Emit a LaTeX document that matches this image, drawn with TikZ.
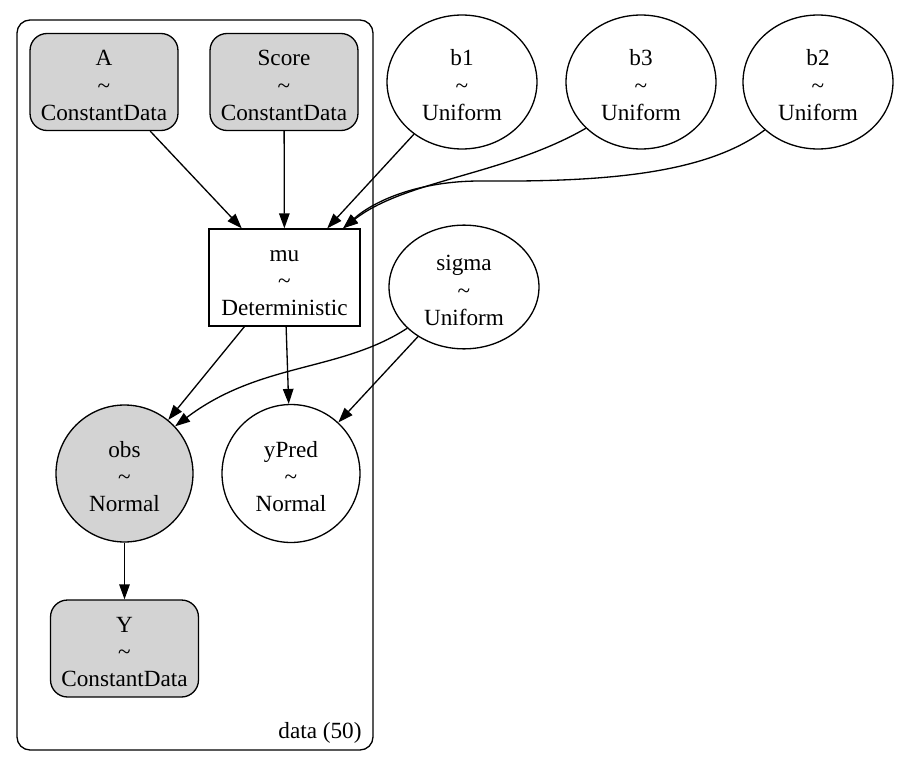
\documentclass[tikz,border=0pt]{standalone}
\usepackage{fontspec}
\setmainfont{Liberation Serif}
\usetikzlibrary{shapes.geometric,arrows.meta}
\definecolor{lightgrey}{RGB}{211,211,211}
\begin{document}
\begin{tikzpicture}[x=0.02cm, y=-0.02cm, font=\fontsize{13.2}{15.6}\selectfont, line width=0.75pt, >={Triangle[length=0.3cm,width=0.21cm]}]
        \tikzstyle{lbl}=[align=center, inner sep=0pt, text height=46.8pt, text depth=3pt]
        \tikzstyle{datanode}=[lbl, draw, rectangle, rounded corners=0.34cm, fill=lightgrey, minimum width=2.96cm, minimum height=1.94cm]
        \tikzstyle{detnode}=[lbl, draw, rectangle, minimum width=3.02cm, minimum height=1.94cm]
        \tikzstyle{rvnode}=[lbl, draw, ellipse, minimum width=3cm, minimum height=2.68cm]
        \tikzstyle{obsnode}=[lbl, draw, circle, fill=lightgrey, minimum size=2.74cm]

        \useasboundingbox (0,0) rectangle (904,764);

        % Placa de los datos
        \draw[rounded corners=0.26cm] (17,20) rectangle (373,750);
        \node[anchor=east] (plate) at (368,733) {data (50)};

        \node[datanode] (A) at (104,82) {A\\\textasciitilde\\ConstantData};
        \node[datanode] (Score) at (284,82) {Score\\\textasciitilde\\ConstantData};
        \node[detnode] (mu) at (284.5,277.5) {mu\\\textasciitilde\\Deterministic};
        \node[obsnode] (obs) at (124.5,473.5) {obs\\\textasciitilde\\Normal};
        \node[lbl, circle, draw, minimum size=2.76cm] (yPred) at (291,473.5) {yPred\\\textasciitilde\\Normal};
        \node[datanode] (Y) at (124.5,648.5) {Y\\\textasciitilde\\ConstantData};

        % Variables libres
        \node[rvnode] (b1) at (462,82) {b1\\\textasciitilde\\Uniform};
        \node[rvnode] (b3) at (641,82) {b3\\\textasciitilde\\Uniform};
        \node[rvnode] (b2) at (818,82) {b2\\\textasciitilde\\Uniform};
        \node[rvnode, minimum height=2.32cm] (sigma) at (464,287) {sigma\\\textasciitilde\\Uniform};

        % Flechas
        \draw[->] (A) -- (mu.131);
        \draw[->] (Score) -- (mu);
        \draw[->] (b1) -- (mu.49);
        \draw[->] (b3.220) .. controls (505,175) and (405,180) .. (mu.40);
        \draw[->] (b2.222) .. controls (705,175) and (600,182) .. (480,181) .. controls (420,181) and (375,200) .. (mu.40);
        \draw[->] (mu) -- (obs);
        \draw[->] (mu) -- (yPred);
        \draw[->] (sigma.216) .. controls (340,372) and (260,362) .. (obs.43);
        \draw[->] (sigma) -- (yPred);
        \draw[->] (obs) -- (Y);
    \end{tikzpicture}
\end{document}
